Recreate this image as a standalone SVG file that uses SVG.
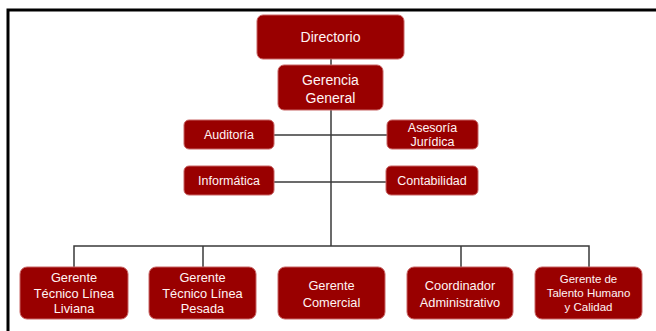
<svg xmlns="http://www.w3.org/2000/svg" width="656" height="331" viewBox="0 0 656 331">
<style>
.box{fill:#990000;stroke:#c86464;stroke-width:1}
.t{font-family:"Liberation Sans","Arial",sans-serif;fill:#fff4f4;font-size:12.5px;text-anchor:middle;dominant-baseline:central}
.b{font-size:12.8px}
.s{font-size:11.5px}
.ln{stroke:#3a3a3a;stroke-width:1.5;fill:none}
</style>
<rect width="656" height="331" fill="#ffffff"/>
<path d="M8,331 V10 H656" fill="none" stroke="#000000" stroke-width="3"/>
<g id="connectors">
<path class="ln" d="M331,59 V65"/>
<path class="ln" d="M331,110 V246"/>
<path class="ln" d="M274,135 H387"/>
<path class="ln" d="M274,182 H386"/>
<path class="ln" d="M74,267 V246 H589 V267"/>
<path class="ln" d="M203,246 V267"/>
<path class="ln" d="M461,246 V267"/>
</g>
<g id="directorio"><rect class="box" x="257" y="15" width="147" height="44" rx="6"/><text class="t" x="330.5" y="37" style="font-size:14px">Directorio</text></g>
<g id="gerencia-general"><rect class="box" x="278" y="65" width="105" height="45" rx="6"/><text class="t" x="330.5" y="80" style="font-size:14px">Gerencia</text><text class="t" x="330.5" y="98" style="font-size:14px">General</text></g>
<g id="auditoria"><rect class="box" x="184" y="120" width="90" height="29" rx="5"/><text class="t" x="229" y="134.5">Auditoría</text></g>
<g id="asesoria"><rect class="box" x="387" y="120" width="91" height="29" rx="5"/><text class="t" x="432.5" y="127.5">Asesoría</text><text class="t" x="432.5" y="142">Jurídica</text></g>
<g id="informatica"><rect class="box" x="184" y="166" width="90" height="29" rx="5"/><text class="t" x="229" y="181">Informática</text></g>
<g id="contabilidad"><rect class="box" x="386" y="166" width="92" height="29" rx="5"/><text class="t" x="432" y="181">Contabilidad</text></g>
<g id="gerente-liviana"><rect class="box" x="20" y="267" width="108" height="52" rx="7"/><text class="t b" x="74" y="277.5">Gerente</text><text class="t b" x="74" y="293">Técnico Línea</text><text class="t b" x="74" y="308.5">Liviana</text></g>
<g id="gerente-pesada"><rect class="box" x="149" y="267" width="107" height="52" rx="7"/><text class="t b" x="202.5" y="277.5">Gerente</text><text class="t b" x="202.5" y="293">Técnico Línea</text><text class="t b" x="202.5" y="308.5">Pesada</text></g>
<g id="gerente-comercial"><rect class="box" x="278" y="267" width="107" height="52" rx="7"/><text class="t b" x="331.5" y="285">Gerente</text><text class="t b" x="331.5" y="302">Comercial</text></g>
<g id="coordinador"><rect class="box" x="407" y="267" width="106" height="52" rx="7"/><text class="t b" x="460" y="285">Coordinador</text><text class="t b" x="460" y="302">Administrativo</text></g>
<g id="gerente-talento"><rect class="box" x="535" y="267" width="107" height="52" rx="7"/><text class="t s" x="588.5" y="279">Gerente de</text><text class="t s" x="588.5" y="293">Talento Humano</text><text class="t s" x="588.5" y="307">y Calidad</text></g>
</svg>
